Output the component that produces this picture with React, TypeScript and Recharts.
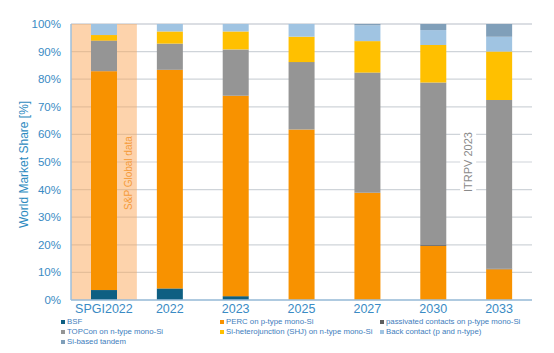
import React from 'react';
import { BarChart, Bar, XAxis, YAxis, CartesianGrid, ReferenceArea, Legend } from 'recharts';

const categories = ['SPGI2022', '2022', '2023', '2025', '2027', '2030', '2033'];
const bsf = [3.6, 4.2, 1.4, 0, 0, 0, 0];
const perc = [79.3, 79.2, 72.6, 61.8, 38.9, 19.6, 11.1];
const passivatedP = [0, 0, 0, 0, 0, 0.3, 0.3];
const topcon = [11.1, 9.5, 16.8, 24.4, 43.5, 58.9, 61.1];
const shj = [2.0, 4.4, 6.5, 9.2, 11.4, 13.6, 17.5];
const backContact = [4.0, 2.7, 2.7, 4.6, 5.7, 5.4, 5.4];
const tandem = [0, 0, 0, 0, 0.5, 2.2, 4.6];
const yTicks = [0, 10, 20, 30, 40, 50, 60, 70, 80, 90, 100];

const series = [
  { key: 'bsf', name: 'BSF', color: '#0E5F82', values: bsf },
  { key: 'perc', name: 'PERC on p-type mono-Si', color: '#F89200', values: perc },
  { key: 'passP', name: 'passivated contacts on p-type mono-Si', color: '#5E5E5E', values: passivatedP },
  { key: 'topcon', name: 'TOPCon on n-type mono-Si', color: '#959595', values: topcon },
  { key: 'shj', name: 'Si-heterojunction (SHJ) on n-type mono-Si', color: '#FFC000', values: shj },
  { key: 'bc', name: 'Back contact (p and n-type)', color: '#A0C4E2', values: backContact },
  { key: 'tandem', name: 'Si-based tandem', color: '#809FB9', values: tandem },
];

const legendOrder = ['bsf', 'perc', 'passP', 'topcon', 'shj', 'bc', 'tandem'];

const data = categories.map((c, i) => {
  const row: Record<string, any> = { cat: c };
  series.forEach((s) => { row[s.key] = s.values[i]; });
  return row;
});

const blue = '#3A8BC4';

const renderLegend = () => {
  const colX = [61, 220, 380];
  return (
    <div style={{ position: 'relative', width: 554, height: 36 }}>
      {legendOrder.map((k, i) => {
        const s = series.find((x) => x.key === k)!;
        const col = i % 3;
        const row = Math.floor(i / 3);
        return (
          <div key={k} style={{ position: 'absolute', left: colX[col], top: row * 10, display: 'flex', alignItems: 'center', fontSize: 7.8, lineHeight: '10px', color: '#3E7DBC', fontFamily: '"Liberation Sans", Arial, sans-serif', whiteSpace: 'nowrap' }}>
            <span style={{ display: 'inline-block', width: 4, height: 4, background: s.color, marginRight: 2 }} />
            {s.name}
          </div>
        );
      })}
    </div>
  );
};

const spLabel = (props: any) => {
  const vb = props.viewBox;
  const x = vb.x + vb.width - 8;
  const y = vb.y + vb.height * 0.54;
  return (
    <text x={x} y={y} transform={`rotate(-90 ${x} ${y})`} textAnchor="middle" dominantBaseline="central" fill="#F59B3A" fontSize={10} fontFamily='"Liberation Sans", Arial, sans-serif'>S&amp;P Global data</text>
  );
};

const itrpvLabel = (props: any) => {
  const vb = props.viewBox;
  const x = vb.x + vb.width / 2 + 2;
  const y = 162;
  return (
    <g>
      <rect x={x - 8} y={y - 38} width={16} height={76} fill="#ffffff" />
      <text x={x} y={y} transform={`rotate(-90 ${x} ${y})`} textAnchor="middle" dominantBaseline="central" fill="#8a8a8a" fontSize={11} fontFamily='"Liberation Sans", Arial, sans-serif'>ITRPV 2023</text>
    </g>
  );
};

export default function App() {
  return (
    <div style={{ position: 'absolute', left: 0, top: 0, width: 554, height: 353, background: '#fff' }}>
      <BarChart width={554} height={353} data={data} margin={{ top: 24, right: 22, left: 0, bottom: 0 }} barSize={26}>
        <CartesianGrid vertical={false} stroke="#cfd4d9" strokeWidth={1.2} />
        <ReferenceArea x1="SPGI2022" x2="SPGI2022" y1={0} y2={100} fill="#FBA759" fillOpacity={0.5} stroke="none" ifOverflow="visible" label={spLabel} />
        <ReferenceArea x1="2030" x2="2033" y1={0} y2={100} fill="none" fillOpacity={0} stroke="none" label={itrpvLabel} />
        <XAxis dataKey="cat" height={17} tickLine={false} tickSize={0} axisLine={{ stroke: '#9dbfdc', strokeWidth: 1.5 }} tick={{ fill: blue, fontSize: 12.5, fontFamily: '"Liberation Sans", Arial, sans-serif' }} tickMargin={4} interval={0} />
        <YAxis domain={[0, 100]} ticks={yTicks} width={71} tickLine={false} tickSize={0} tickMargin={10} tickFormatter={(v: number) => `${v}%`} axisLine={{ stroke: '#9dbfdc', strokeWidth: 1.5 }} tick={{ fill: blue, fontSize: 11.5, fontFamily: '"Liberation Sans", Arial, sans-serif' }} label={{ value: 'World Market Share [%]', angle: -90, position: 'insideLeft', offset: 24, dy: 66, style: { fill: '#2E8BBF', fontSize: 12, fontFamily: '"Liberation Sans", Arial, sans-serif' } }} />
        <YAxis yAxisId="r" orientation="right" width={0} tick={false} tickLine={false} axisLine={{ stroke: '#b5d2ea', strokeWidth: 1.5 }} domain={[0, 100]} />
        <ReferenceArea x1="SPGI2022" x2="2033" y1={100} y2={100} stroke="#6fa3cf" strokeWidth={1.5} fill="none" ifOverflow="visible" />
        {series.map((s) => (
          <Bar key={s.key} dataKey={s.key} name={s.name} stackId="a" fill={s.color} isAnimationActive={false} />
        ))}
        <Legend content={renderLegend} height={36} wrapperStyle={{ position: 'absolute', left: 0, top: 317, width: 554, height: 36 }} />
      </BarChart>
    </div>
  );
}
